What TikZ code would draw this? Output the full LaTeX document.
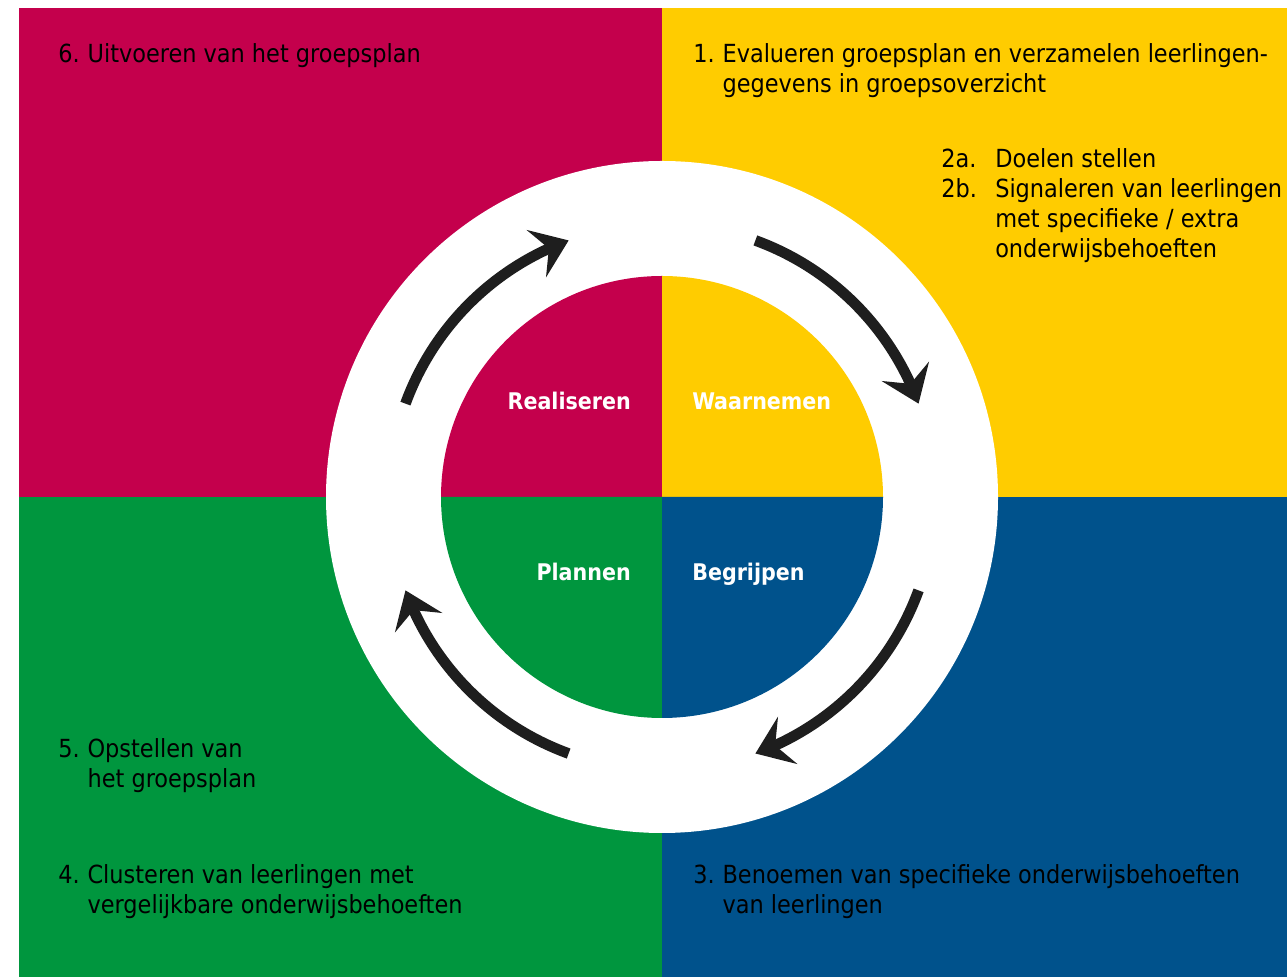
\documentclass[tikz,border=0pt]{standalone}
\usepackage{fontspec}
\setmainfont{DejaVuSansCondensed.ttf}[BoldFont=DejaVuSansCondensed-Bold.ttf]
\usetikzlibrary{arrows.meta,bending}
\definecolor{rood}{RGB}{196,0,76}
\definecolor{geel}{RGB}{255,204,0}
\definecolor{groen}{RGB}{0,150,62}
\definecolor{blauw}{RGB}{0,82,140}
\definecolor{pijlkleur}{RGB}{30,30,30}
\begin{document}
\begin{tikzpicture}[x=0.75pt,y=0.75pt,
  stap/.style={anchor=base west,inner sep=0pt,font=\fontsize{18.7}{22.5}\selectfont},
  fase/.style={inner sep=0pt,text=white,font=\fontsize{17.2}{22.5}\selectfont\bfseries},
  pijl/.style={line width=8pt,draw=pijlkleur,-{Stealth[length=26pt,width=38pt,inset=10pt]}}]
\useasboundingbox (0,0) rectangle (1287,977);
\coordinate (origin) at (662,480);
% Draw quadrants
\fill[rood] (19,969) rectangle (origin);
\fill[geel] (1287,969) rectangle (origin);
\fill[groen] (19,0) rectangle (origin);
\fill[blauw] (1287,0) rectangle (origin);
% White ring
\fill[white] (origin) circle [radius=336];
% Inner circle, four quarters
\fill[rood] (origin) -- ++(90:221) arc [start angle=90,end angle=180,radius=221] -- cycle;
\fill[geel] (origin) -- ++(0:221) arc [start angle=0,end angle=90,radius=221] -- cycle;
\fill[groen] (origin) -- ++(180:221) arc [start angle=180,end angle=270,radius=221] -- cycle;
\fill[blauw] (origin) -- ++(270:221) arc [start angle=270,end angle=360,radius=221] -- cycle;
% Draw arrows
\draw[pijl] (origin) ++(160:273) arc [start angle=160,end angle=110,radius=273];
\draw[pijl] (origin) ++(70:273) arc [start angle=70,end angle=20,radius=273];
\draw[pijl] (origin) ++(-20:273) arc [start angle=-20,end angle=-70,radius=273];
\draw[pijl] (origin) ++(-110:273) arc [start angle=-110,end angle=-160,radius=273];
% Phases
\node[fase,anchor=base east] (realiseren) at (631,567) {Realiseren};
\node[fase,anchor=base west] (waarnemen) at (692,567) {Waarnemen};
\node[fase,anchor=base east] (plannen) at (631,396) {Plannen};
\node[fase,anchor=base west] (begrijpen) at (692,396) {Begrijpen};
% Steps
\node[stap] (stap6) at (58,914) {\begin{tabular}[t]{@{}p{22pt}@{}l@{}}6.&Uitvoeren van het groepsplan\end{tabular}};
\node[stap] (stap1) at (693,914) {\begin{tabular}[t]{@{}p{22pt}@{}l@{}}1.&Evalueren groepsplan en verzamelen leerlingen-\\&gegevens in groepsoverzicht\end{tabular}};
\node[stap] (stap2) at (941,809) {\begin{tabular}[t]{@{}p{40.5pt}@{}l@{}}2a.&Doelen stellen\\2b.&Signaleren van leerlingen\\&met specifieke / extra\\&onderwijsbehoeften\end{tabular}};
\node[stap] (stap5) at (58,219) {\begin{tabular}[t]{@{}p{22pt}@{}l@{}}5.&Opstellen van\\&het groepsplan\end{tabular}};
\node[stap] (stap4) at (58,93) {\begin{tabular}[t]{@{}p{22pt}@{}l@{}}4.&Clusteren van leerlingen met\\&vergelijkbare onderwijsbehoeften\end{tabular}};
\node[stap] (stap3) at (693,93) {\begin{tabular}[t]{@{}p{22pt}@{}l@{}}3.&Benoemen van specifieke onderwijsbehoeften\\&van leerlingen\end{tabular}};
\end{tikzpicture}
\end{document}
